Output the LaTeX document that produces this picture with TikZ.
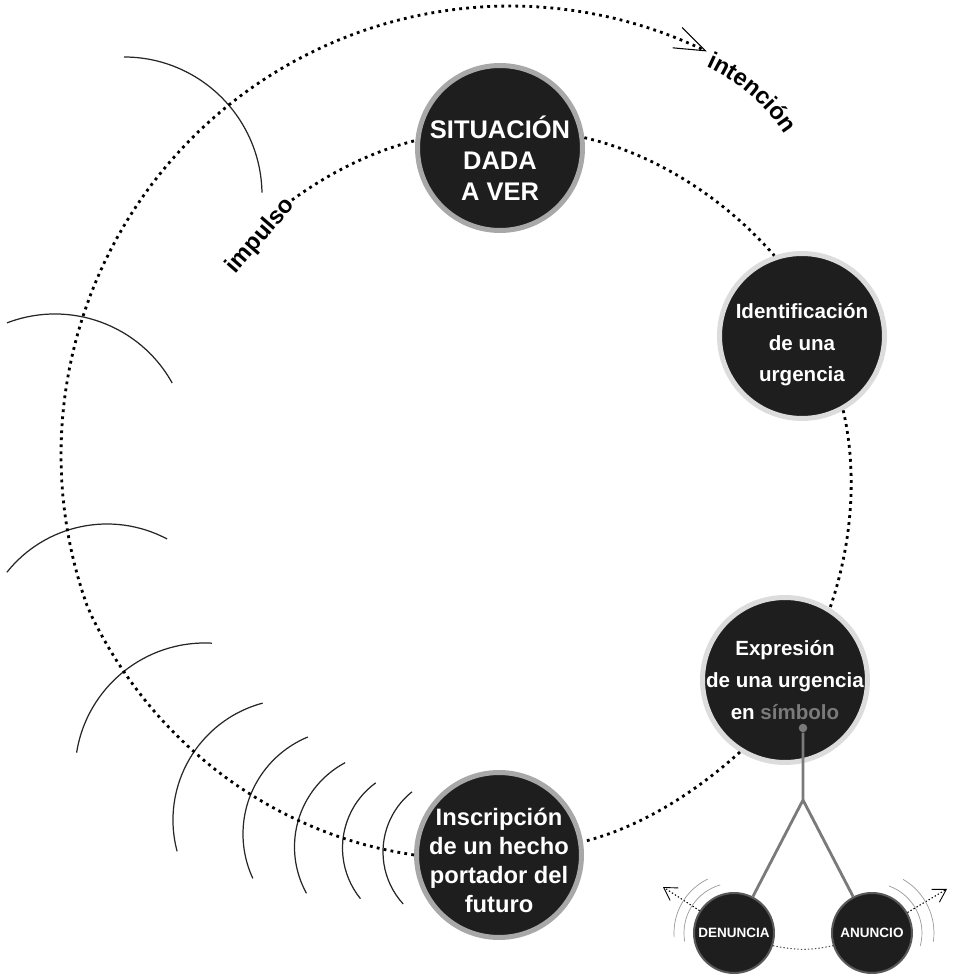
\documentclass[tikz,border=0pt]{standalone}
\usepackage{fontspec}
\setmainfont{Liberation Sans}
\usepackage{xcolor}
\usepackage{tikz}
\usetikzlibrary{arrows.meta,positioning,decorations.text}

\definecolor{ink}{HTML}{1E1E1E}
\definecolor{ringdark}{HTML}{A8A8A8}
\definecolor{ringlight}{HTML}{DCDCDC}
\definecolor{symgray}{HTML}{7A7A7A}

\begin{document}
\begin{tikzpicture}[
        x=0.02cm, y=0.02cm,
        node distance=1.12cm,
        stage/.style={circle, fill=ink, draw=#1, line width=0.1cm, minimum size=3.3cm, inner sep=0pt},
        badge/.style={circle, fill=ink, draw=black!65, line width=0.04cm, minimum size=1.6cm, inner sep=0pt, text=white, font=\bfseries\fontsize{7.7}{9}\selectfont},
        txt/.style={text=white, align=center, inner sep=0pt},
        lbl/.style={inner sep=1pt, font=\bfseries\fontsize{13.5}{16}\selectfont},
        dots/.style={line width=1.6pt, dash pattern=on 1.6pt off 2.4pt, looseness=0.85},
        wave/.style={line width=0.7pt, black!85},
        ripple/.style={line width=0.4pt, black!40},
        fine/.style={line width=0.6pt, dash pattern=on 0.8pt off 1.2pt},
        stem/.style={line width=1.6pt, symgray}
    ]
    \useasboundingbox (0,0) rectangle (953,975);

    \draw[wave] (124,780) ++(90:138) arc[start angle=90, end angle=1, radius=138];
    \draw[wave] (55,527) ++(111:134) arc[start angle=111, end angle=29, radius=134];
    \draw[wave] (107,323) ++(141.5:128) arc[start angle=141.5, end angle=62, radius=128];
    \draw[wave] (205,202) ++(87:130) arc[start angle=87, end angle=171, radius=130];
    \draw[wave] (294,155) ++(105:121) arc[start angle=105, end angle=195, radius=121];
    \draw[wave] (348,141) ++(112.5:105) arc[start angle=112.5, end angle=205, radius=105];
    \draw[wave] (390,128) ++(118:95.5) arc[start angle=118, end angle=209, radius=95.5];
    \draw[wave] (423,127) ++(126:80.5) arc[start angle=126, end angle=219, radius=80.5];
    \draw[wave] (460,123) ++(128.6:77) arc[start angle=128.6, end angle=222.4, radius=77];

    \node[stage=ringdark] (sit) at (500,827) {};
    \node[stage=ringlight] (ident) at (802,639) {};
    \node[stage=ringlight] (expr) at (785,295) {};
    \node[stage=ringdark] (insc) at (499,120) {};
    \node[txt, font=\bfseries\fontsize{14.5}{17.6}\selectfont] (sit text) at ([yshift=-0.2cm]sit) {SITUACIÓN\\DADA\\A VER};
    \node[txt, font=\bfseries\fontsize{11.7}{18}\selectfont] (ident text) at ([yshift=-0.18cm]ident) {Identificación\\de una\\urgencia};
    \node[txt, font=\bfseries\fontsize{11.7}{18}\selectfont] (expr text) at (expr) {Expresión\\de una urgencia\\en \textcolor{symgray}{símbolo}};
    \node[txt, font=\bfseries\fontsize{13.5}{16.5}\selectfont] (insc text) at ([yshift=-0.1cm]insc) {Inscripción\\de un hecho\\portador del\\futuro};
    \node[badge] (den) at (734,42) {DENUNCIA};
    \node[badge, right=of den] (anu) {ANUNCIO};
    \node[circle, fill=symgray, minimum size=0.17cm, inner sep=0pt] (sym) at (803,247) {};
    \coordinate (fork) at (803,175);
    \coordinate (den out) at (663,88);
    \coordinate (anu out) at (947,86);
    \node[lbl, rotate=49, anchor=east] (imp) at (292,775) {impulso};

    \draw[dots] (imp.east) to[out=36, in=-166] (sit.175);
    \draw[dots] (sit.7) to[out=-13, in=131] (ident.109);
    \draw[dots] (ident.-61) to[out=-77, in=71] (expr.58);
    \draw[dots] (expr.-122) to[out=-138, in=14] (insc.9);
    \draw[dots, -{Straight Barb[length=0.62cm, width=0.45cm, line width=0.6pt]}] (insc.west) -- plot[domain=256:64, samples=120] ({510+(449-0.668*max(\x-200,0))*cos(\x)}, {520+(449-0.668*max(\x-200,0))*sin(\x)});
    \path[decorate, decoration={text along path, text align=left, text={|\bfseries\fontsize{13.5}{16}\selectfont|intención}}] (632,742) ++(66:182) arc[start angle=66, end angle=32, radius=182];

    \draw[stem] (sym) -- (fork) -- (den);
    \draw[stem] (fork) -- (anu);
    \draw[fine, black!70] (den.-18) to[bend right=12] (anu.198);
    \draw[fine, -{Straight Barb[length=2.5mm, width=3mm, line width=0.5pt]}] (den.147) -- (den out);
    \draw[fine, -{Straight Barb[length=2.5mm, width=3mm, line width=0.5pt]}] (anu.30) -- (anu out);
    \draw[ripple] (den) ++(106:50) arc[start angle=106, end angle=190, radius=50];
    \draw[ripple] (den) ++(116:60) arc[start angle=116, end angle=184, radius=60];
    \draw[ripple] (anu) ++(70:50) arc[start angle=70, end angle=-15, radius=50];
    \draw[ripple] (anu) ++(60:62) arc[start angle=60, end angle=-8, radius=62];
\end{tikzpicture}
\end{document}
